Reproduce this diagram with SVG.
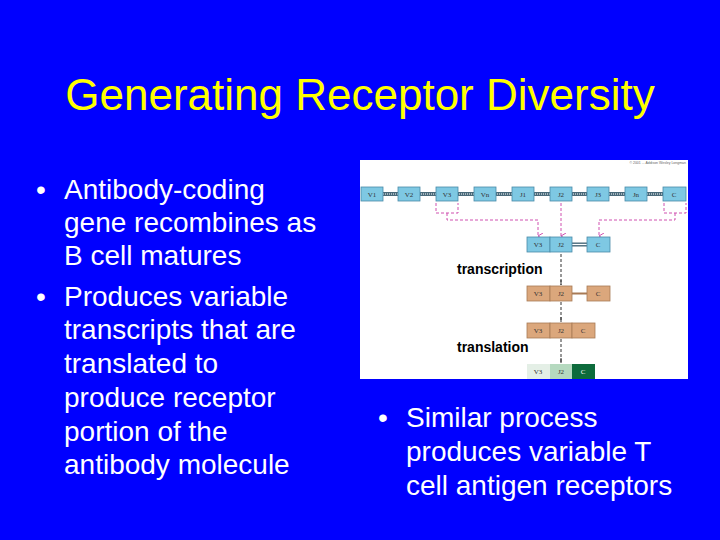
<svg xmlns="http://www.w3.org/2000/svg" width="720" height="540" viewBox="0 0 720 540">
<defs>
<style>
.t{font-family:"Liberation Sans",Arial,sans-serif;fill:#fff;font-size:28px}
.b{fill:#7ec8e3;stroke:#4a8aa8;stroke-width:0.8}
.o{fill:#dba77c;stroke:#a87a55;stroke-width:0.8}
.s{font-family:"Liberation Serif",serif;font-size:7px;fill:#333;text-anchor:middle}
.lk{stroke:#4a6a7a;stroke-width:4;fill:none}
.pk{stroke:#d050b0;stroke-width:1;stroke-dasharray:3,2;fill:none}
.dk{stroke:#333;stroke-width:1;stroke-dasharray:3,2;fill:none}
.lb{font-family:"Liberation Sans",Arial,sans-serif;font-weight:bold;font-size:14px;fill:#000}
</style>
<marker id="ap" markerWidth="6" markerHeight="6" refX="3" refY="5" orient="auto-start-reverse" markerUnits="userSpaceOnUse"><path d="M0,0 L3,5 L6,0" fill="none" stroke="#d050b0"/></marker>
<marker id="ad" markerWidth="6" markerHeight="6" refX="3" refY="5" markerUnits="userSpaceOnUse"><path d="M3,0 L3,5" stroke="#333"/></marker>
</defs>
<rect width="720" height="540" fill="#0000ff"/>
<text x="360" y="110" text-anchor="middle" font-family="Liberation Sans,Arial,sans-serif" font-size="44" fill="#ffff00">Generating Receptor Diversity</text>
<g id="left-text" class="t">
<text x="36" y="199">•</text><text x="64" y="199">Antibody-coding</text>
<text x="64" y="232">gene recombines as</text>
<text x="64" y="265">B cell matures</text>
<text x="36" y="306">•</text><text x="64" y="306">Produces variable</text>
<text x="64" y="339">transcripts that are</text>
<text x="64" y="373">translated to</text>
<text x="64" y="407">produce receptor</text>
<text x="64" y="441">portion of the</text>
<text x="64" y="474">antibody molecule</text>
</g>
<g id="right-text" class="t">
<text x="378" y="427">•</text><text x="406" y="427">Similar process</text>
<text x="406" y="461">produces variable T</text>
<text x="406" y="495">cell antigen receptors</text>
</g>
<g id="figure">
<rect x="360" y="160" width="328" height="219" fill="#fff"/>
<text x="686" y="164" font-family="Liberation Sans,sans-serif" font-size="3.5" fill="#666" text-anchor="end">© 2001 ... Addison Wesley Longman</text>
<line x1="383" y1="194" x2="663" y2="194" class="lk"/>
<line x1="383" y1="194" x2="663" y2="194" stroke="#fff" stroke-width="1.2" stroke-dasharray="1,1"/>
<g id="genes">
<rect class="b" x="361" y="187" width="22" height="14"/><text class="s" x="372" y="197">V1</text>
<rect class="b" x="398" y="187" width="22" height="14"/><text class="s" x="409" y="197">V2</text>
<rect class="b" x="436" y="187" width="22" height="14"/><text class="s" x="447" y="197">V3</text>
<rect class="b" x="474" y="187" width="22" height="14"/><text class="s" x="485" y="197">Vn</text>
<rect class="b" x="512" y="187" width="22" height="14"/><text class="s" x="523" y="197">J1</text>
<rect class="b" x="550" y="187" width="22" height="14"/><text class="s" x="561" y="197">J2</text>
<rect class="b" x="587" y="187" width="22" height="14"/><text class="s" x="598" y="197">J3</text>
<rect class="b" x="625" y="187" width="22" height="14"/><text class="s" x="636" y="197">Jn</text>
<rect class="b" x="663" y="187" width="23" height="14"/><text class="s" x="674" y="197">C</text>
</g>
<g id="connectors">
<path class="pk" d="M436,203 V213 H458 V203 M447,213 V220 H538 V236" marker-end="url(#ap)"/>
<path class="pk" d="M561,203 V236" marker-end="url(#ap)"/>
<path class="pk" d="M664,203 V213 H686 V203 M675,213 V220 H599 V236" marker-end="url(#ap)"/>
<path class="dk" d="M561,254 V285" marker-end="url(#ad)"/>
<path class="dk" d="M561,302 V322" marker-end="url(#ad)"/>
<path class="dk" d="M561,339 V363" marker-end="url(#ad)"/>
</g>
<g id="recombined">
<line x1="572" y1="244.5" x2="587" y2="244.5" class="lk"/>
<line x1="572" y1="244.5" x2="587" y2="244.5" stroke="#fff" stroke-width="1.2"/>
<rect class="b" x="527" y="237" width="23" height="15"/><text class="s" x="538" y="247">V3</text>
<rect class="b" x="550" y="237" width="22" height="15"/><text class="s" x="561" y="247">J2</text>
<rect class="b" x="587" y="237" width="23" height="15"/><text class="s" x="598" y="247">C</text>
</g>
<text class="lb" x="457" y="274">transcription</text>
<g id="rna">
<line x1="572" y1="293.5" x2="587" y2="293.5" stroke="#a87a55" stroke-width="2"/>
<rect class="o" x="527" y="286" width="23" height="15"/><text class="s" x="538" y="296">V3</text>
<rect class="o" x="550" y="286" width="22" height="15"/><text class="s" x="561" y="296">J2</text>
<rect class="o" x="587" y="286" width="23" height="15"/><text class="s" x="598" y="296">C</text>
</g>
<g id="mrna">
<rect class="o" x="527" y="323" width="23" height="15"/><text class="s" x="538" y="333">V3</text>
<rect class="o" x="550" y="323" width="22" height="15"/><text class="s" x="561" y="333">J2</text>
<rect class="o" x="572" y="323" width="23" height="15"/><text class="s" x="583" y="333">C</text>
</g>
<text class="lb" x="457" y="352">translation</text>
<g id="protein">
<rect x="527" y="364" width="23" height="15" fill="#e4efe6"/><text class="s" x="538" y="374">V3</text>
<rect x="550" y="364" width="22" height="15" fill="#b5d9bf"/><text class="s" x="561" y="374">J2</text>
<rect x="572" y="364" width="23" height="15" fill="#0d6b3c"/><text class="s" x="583" y="374" style="fill:#fff">C</text>
</g>
</g>
</svg>
